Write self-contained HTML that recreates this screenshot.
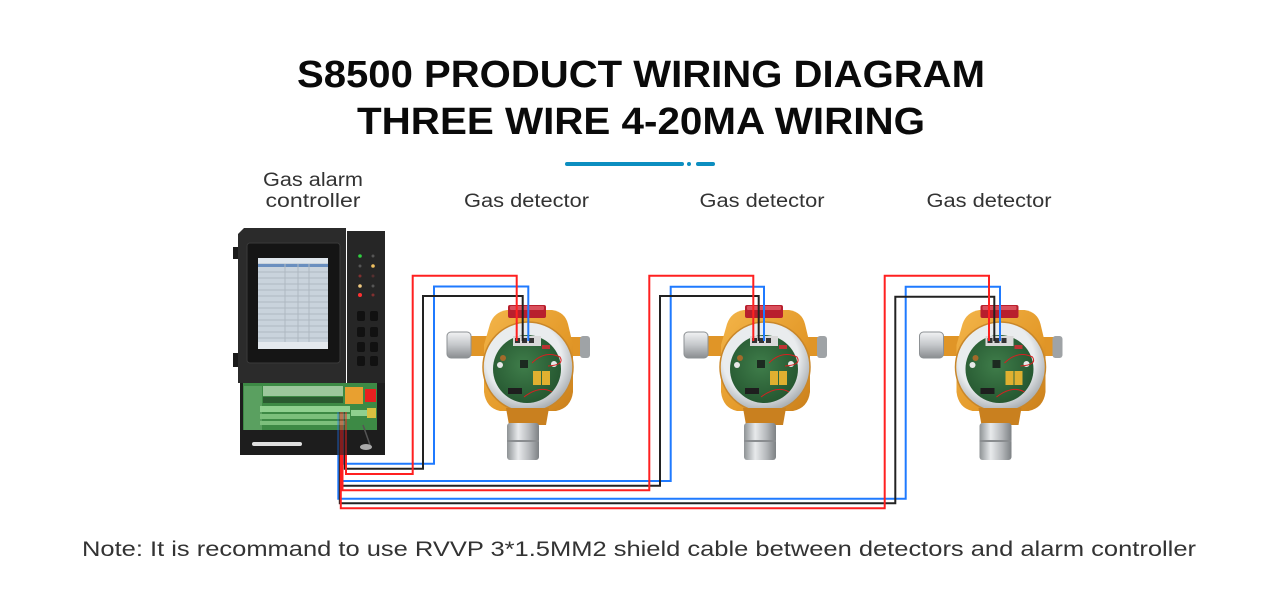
<!DOCTYPE html>
<html><head><meta charset="utf-8"><style>
html,body{margin:0;padding:0;background:#fff;}
svg{display:block;}
</style></head><body>
<svg width="1280" height="600" viewBox="0 0 1280 600" xmlns="http://www.w3.org/2000/svg">
<defs>
 <linearGradient id="silverH" x1="0" y1="0" x2="1" y2="0">
  <stop offset="0" stop-color="#8e9295"/><stop offset="0.35" stop-color="#e8eaec"/><stop offset="0.7" stop-color="#b5b8bb"/><stop offset="1" stop-color="#7d8184"/>
 </linearGradient>
 <linearGradient id="silverV" x1="0" y1="0" x2="0" y2="1">
  <stop offset="0" stop-color="#f2f3f4"/><stop offset="0.5" stop-color="#c4c7ca"/><stop offset="1" stop-color="#8a8d90"/>
 </linearGradient>
 <linearGradient id="orange" x1="0" y1="0" x2="1" y2="1">
  <stop offset="0" stop-color="#f3b54a"/><stop offset="0.6" stop-color="#e49a2a"/><stop offset="1" stop-color="#c97f1c"/>
 </linearGradient>
 <radialGradient id="glass" cx="0.45" cy="0.4" r="0.6">
  <stop offset="0.7" stop-color="#e9ecee"/><stop offset="1" stop-color="#a9aeb2"/>
 </radialGradient>
 <radialGradient id="pcb" cx="0.45" cy="0.45" r="0.6">
  <stop offset="0" stop-color="#3f7d4a"/><stop offset="1" stop-color="#24552f"/>
 </radialGradient>
 <g id="det">
  <!-- left cap -->
  <rect x="468" y="336" width="22" height="20" fill="#e09527"/>
  <rect x="447" y="332" width="24" height="26" rx="4" fill="url(#silverV)"/>
  <rect x="447" y="332" width="24" height="26" rx="4" fill="none" stroke="#8d9194" stroke-width="1"/>
  <!-- right arm -->
  <rect x="566" y="337" width="16" height="19" fill="#e09527"/>
  <rect x="580" y="336" width="10" height="22" rx="3" fill="#9fa3a6"/>
  <!-- body -->
  <path d="M490 324 Q494 312 507 310 L552 310 Q565 312 568 324 L573 345 L573 392 Q571 408 556 411 L500 411 Q486 408 484 392 L484 345 Z" fill="url(#orange)"/>
  <!-- red light -->
  <rect x="508" y="305" width="38" height="13" rx="2" fill="#b81f2d"/>
  <rect x="510" y="306" width="34" height="4" rx="1" fill="#d9505c"/>
  <!-- glass ring -->
  <circle cx="528" cy="367" r="45" fill="url(#glass)"/>
  <circle cx="528" cy="367" r="45" fill="none" stroke="#c9872a" stroke-width="1.5"/>
  <!-- pcb -->
  <circle cx="527" cy="369" r="34" fill="url(#pcb)"/>
  <rect x="513" y="336" width="28" height="10" fill="#d9d9d9"/>
  <rect x="515" y="338" width="5" height="5" fill="#333"/>
  <rect x="522" y="338" width="5" height="5" fill="#333"/>
  <rect x="529" y="338" width="5" height="5" fill="#333"/>
  <rect x="542" y="345" width="8" height="4" fill="#b33"/>
  <rect x="533" y="371" width="8" height="14" fill="#e0b030"/>
  <rect x="542" y="371" width="8" height="14" fill="#e0b030"/>
  <rect x="508" y="388" width="14" height="6" fill="#1e1e1e"/>
  <rect x="520" y="360" width="8" height="8" fill="#1c2a20"/>
  <circle cx="500" cy="365" r="3" fill="#e8e8e8"/>
  <circle cx="554" cy="364" r="3" fill="#e8e8e8"/>
  <circle cx="503" cy="358" r="3" fill="#a36a2a"/>
  <path d="M532 363 Q545 350 560 357 Q565 365 548 366" fill="none" stroke="#d62020" stroke-width="1"/>
  <path d="M524 397 Q540 385 552 392" fill="none" stroke="#d62020" stroke-width="1"/>
  <!-- neck -->
  <path d="M506 408 L549 408 L546 425 L509 425 Z" fill="#c9801f"/>
  <!-- sensor -->
  <rect x="507" y="423" width="32" height="37" rx="3" fill="url(#silverH)"/>
  <rect x="507" y="440" width="32" height="2" fill="#8a8d90"/>
 </g>
</defs>

<!-- Title -->
<text x="641" y="87" text-anchor="middle" font-family="Liberation Sans, sans-serif" font-weight="700" font-size="38" fill="#0a0a0a" textLength="688" lengthAdjust="spacingAndGlyphs">S8500 PRODUCT WIRING DIAGRAM</text>
<text x="641" y="134" text-anchor="middle" font-family="Liberation Sans, sans-serif" font-weight="700" font-size="38" fill="#0a0a0a" textLength="568" lengthAdjust="spacingAndGlyphs">THREE WIRE 4-20MA WIRING</text>

<!-- divider -->
<line x1="567" y1="164" x2="682" y2="164" stroke="#0c8ec0" stroke-width="4" stroke-linecap="round"/>
<circle cx="689" cy="164" r="2" fill="#0c8ec0"/>
<line x1="698" y1="164" x2="713" y2="164" stroke="#0c8ec0" stroke-width="4" stroke-linecap="round"/>

<!-- labels -->
<g font-family="Liberation Sans, sans-serif" font-size="19" fill="#333">
 <text x="313" y="186" text-anchor="middle" textLength="100" lengthAdjust="spacingAndGlyphs">Gas alarm</text>
 <text x="313" y="207" text-anchor="middle" textLength="95" lengthAdjust="spacingAndGlyphs">controller</text>
 <text x="526.5" y="207" text-anchor="middle" textLength="125" lengthAdjust="spacingAndGlyphs">Gas detector</text>
 <text x="762" y="207" text-anchor="middle" textLength="125" lengthAdjust="spacingAndGlyphs">Gas detector</text>
 <text x="989" y="207" text-anchor="middle" textLength="125" lengthAdjust="spacingAndGlyphs">Gas detector</text>
</g>

<!-- Controller -->
<g>
 <rect x="233" y="247" width="7" height="12" fill="#1a1a1a"/>
 <rect x="233" y="353" width="7" height="14" fill="#1a1a1a"/>
 <path d="M244 228 L346 228 L346 383 L238 383 L238 234 Z" fill="#2b2b2b"/>
 <rect x="347" y="231" width="38" height="152" fill="#262626"/>
 <rect x="247" y="243" width="93" height="120" rx="3" fill="#151515" stroke="#3a3a3a" stroke-width="1"/>
 <rect x="258" y="258" width="70" height="91" fill="#c9d3dc"/>
 <rect x="258" y="258" width="70" height="5" fill="#dfe6ec"/>
 <rect x="258" y="264" width="70" height="3" fill="#6a8fbf"/>
 <g stroke="#aeb8c2" stroke-width="1">
  <line x1="258" y1="272" x2="328" y2="272"/><line x1="258" y1="278" x2="328" y2="278"/>
  <line x1="258" y1="284" x2="328" y2="284"/><line x1="258" y1="290" x2="328" y2="290"/>
  <line x1="258" y1="296" x2="328" y2="296"/><line x1="258" y1="302" x2="328" y2="302"/>
  <line x1="258" y1="308" x2="328" y2="308"/><line x1="258" y1="314" x2="328" y2="314"/>
  <line x1="258" y1="320" x2="328" y2="320"/><line x1="258" y1="326" x2="328" y2="326"/>
  <line x1="258" y1="332" x2="328" y2="332"/><line x1="258" y1="338" x2="328" y2="338"/>
  <line x1="285" y1="264" x2="285" y2="342"/><line x1="298" y1="264" x2="298" y2="342"/><line x1="309" y1="264" x2="309" y2="342"/>
 </g>
 <rect x="258" y="342" width="70" height="7" fill="#e4e9ee"/>
 <!-- LEDs -->
 <circle cx="360" cy="256" r="1.8" fill="#30d040"/><circle cx="373" cy="256" r="1.5" fill="#555"/>
 <circle cx="360" cy="266" r="1.5" fill="#555"/><circle cx="373" cy="266" r="1.8" fill="#f0c060"/>
 <circle cx="360" cy="276" r="1.5" fill="#803030"/><circle cx="373" cy="276" r="1.5" fill="#553030"/>
 <circle cx="360" cy="286" r="1.8" fill="#f0c880"/><circle cx="373" cy="286" r="1.5" fill="#555"/>
 <circle cx="360" cy="295" r="2" fill="#ff3030"/><circle cx="373" cy="295" r="1.5" fill="#803030"/>
 <g fill="#111">
  <rect x="357" y="311" width="8" height="10" rx="2"/><rect x="370" y="311" width="8" height="10" rx="2"/>
  <rect x="357" y="327" width="8" height="10" rx="2"/><rect x="370" y="327" width="8" height="10" rx="2"/>
  <rect x="357" y="342" width="8" height="10" rx="2"/><rect x="370" y="342" width="8" height="10" rx="2"/>
  <rect x="357" y="356" width="8" height="10" rx="2"/><rect x="370" y="356" width="8" height="10" rx="2"/>
 </g>
 <!-- lower -->
 <rect x="240" y="383" width="145" height="72" fill="#1d1d1d"/>
 <rect x="243" y="383" width="134" height="47" fill="#3d8a45"/>
 <rect x="244" y="386" width="18" height="44" fill="#5aa060"/>
 <rect x="263" y="386" width="80" height="10" fill="#9cc79c"/>
 <rect x="263" y="397" width="80" height="6" fill="#2a5a30"/>
 <rect x="260" y="406" width="90" height="6" fill="#8fd08f"/>
 <rect x="260" y="414" width="90" height="5" fill="#7cc07c"/>
 <rect x="260" y="421" width="85" height="4" fill="#7cc07c"/>
 <rect x="345" y="387" width="18" height="17" fill="#e8a030"/>
 <rect x="365" y="389" width="11" height="13" fill="#e82020"/>
 <rect x="351" y="410" width="20" height="6" fill="#8fd08f"/>
 <rect x="367" y="408" width="9" height="10" fill="#d8c040"/>
 <rect x="252" y="442" width="50" height="4" rx="2" fill="#e0e0e0"/>
 <line x1="363" y1="425" x2="370" y2="445" stroke="#555" stroke-width="1.5"/>
 <ellipse cx="366" cy="447" rx="6" ry="3" fill="#aaa"/>
</g>

<!-- Detectors -->
<use href="#det"/>
<use href="#det" transform="translate(237,0)"/>
<use href="#det" transform="translate(472.5,0)"/>

<!-- Wires: faded parts inside controller -->
<g stroke-width="2" fill="none" opacity="0.45">
 <line x1="338.3" y1="412" x2="338.3" y2="456" stroke="#1f7aff"/>
 <line x1="341" y1="412" x2="341" y2="456" stroke="#1f7aff"/>
 <line x1="343.5" y1="412" x2="343.5" y2="456" stroke="#1f7aff"/>
 <line x1="339.8" y1="412" x2="339.8" y2="456" stroke="#222"/>
 <line x1="344.8" y1="412" x2="344.8" y2="456" stroke="#222"/>
 <line x1="340.8" y1="412" x2="340.8" y2="456" stroke="#ff2020"/>
 <line x1="342.5" y1="412" x2="342.5" y2="456" stroke="#ff2020"/>
 <line x1="346" y1="412" x2="346" y2="456" stroke="#ff2020"/>
</g>
<g stroke-width="2" fill="none" stroke-linejoin="miter">
 <!-- G1 -->
 <polyline stroke="#1f7aff" points="343.5,455 343.5,463.7 434,463.7 434,286.5 528.3,286.5 528.3,341"/>
 <polyline stroke="#222" points="344.8,455 344.8,468.7 423,468.7 423,296 522.7,296 522.7,341"/>
 <polyline stroke="#ff2020" points="346,455 346,474 412.7,474 412.7,275.7 516.7,275.7 516.7,341"/>
 <!-- G2 -->
 <polyline stroke="#1f7aff" points="341,455 341,481 670.7,481 670.7,286.7 764,286.7 764,341"/>
 <polyline stroke="#222" points="341.8,455 341.8,485.7 660,485.7 660,296 758.7,296 758.7,341"/>
 <polyline stroke="#ff2020" points="342.5,455 342.5,490.3 649.3,490.3 649.3,275.7 753.3,275.7 753.3,341"/>
 <!-- G3 -->
 <polyline stroke="#1f7aff" points="338.3,455 338.3,498.7 905.7,498.7 905.7,286.7 1000,286.7 1000,341"/>
 <polyline stroke="#222" points="339.8,455 339.8,503.3 895.3,503.3 895.3,296.7 994.3,296.7 994.3,341"/>
 <polyline stroke="#ff2020" points="340.8,455 340.8,508.3 884.7,508.3 884.7,275.7 989,275.7 989,341"/>
</g>

<!-- note -->
<text x="639" y="556" text-anchor="middle" font-family="Liberation Sans, sans-serif" font-size="21" fill="#333" textLength="1114" lengthAdjust="spacingAndGlyphs">Note: It is recommand to use RVVP 3*1.5MM2 shield cable between detectors and alarm controller</text>
</svg>
</body></html>
